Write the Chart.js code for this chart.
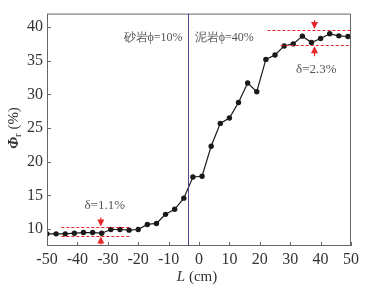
<!DOCTYPE html>
<html>
<head>
<meta charset="utf-8">
<script src="https://cdn.jsdelivr.net/npm/chart.js@4.4.1/dist/chart.umd.min.js"></script>
<style>
    html, body { margin: 0; padding: 0; background: #fff; }
    #wrap { width: 370px; height: 291px; }
</style>
</head>
<body>
<div id="wrap"><canvas id="myChart" width="370" height="291"></canvas></div>
<script>
// Положение по длине образца (см) и пористость Φr (%)
const positions = [-50, -47, -44, -41, -38, -35, -32, -29, -26, -23, -20, -17, -14, -11, -8, -5, -2,
    1, 4, 7, 10, 13, 16, 19, 22, 25, 28, 31, 34, 37, 40, 43, 46, 49];
const phiValues = [9.3, 9.3, 9.3, 9.4, 9.5, 9.5, 9.4, 9.95, 9.95, 9.85, 9.95, 10.7, 10.85, 12.2, 12.95, 14.6, 17.75,
    17.85, 22.3, 25.7, 26.5, 28.8, 31.7, 30.4, 35.2, 35.85, 37.2, 37.5, 38.65, 37.7, 38.3, 39.0, 38.7, 38.6];

const xTicks = [-50, -40, -30, -20, -10, 0, 10, 20, 30, 40, 50];
const yTicks = [10, 15, 20, 25, 30, 35, 40];

// Граница песчаник / глина
const interfaceX = -3.5;
// Пунктирные линии разброса: [x от, x до, значение]
const sandBand = [[-45.3, -22.2, 10.25], [-45.3, -22.2, 9.05]];
const mudBand = [[22.5, 50, 39.55], [26.9, 50, 37.3]];
const arrowX = [-32.3, 38];

const serif = "'Liberation Serif', 'DejaVu Serif', serif";
const red = '#e8262a';

const annotations = {
    id: 'annotations',
    afterDatasetsDraw(chart) {
        const {ctx, chartArea: a, scales: {x, y}} = chart;
        ctx.save();

        // рамка
        ctx.strokeStyle = '#666';
        ctx.lineWidth = 1;
        ctx.strokeRect(a.left + 0.5, a.top + 0.5, a.right - a.left - 1, a.bottom - a.top - 1);

        // внутренние засечки
        ctx.beginPath();
        xTicks.forEach(v => {
            const px = Math.round(x.getPixelForValue(v)) + 0.5;
            ctx.moveTo(px, a.bottom);
            ctx.lineTo(px, a.bottom - 4);
        });
        yTicks.forEach(v => {
            const py = Math.round(y.getPixelForValue(v)) + 0.5;
            ctx.moveTo(a.left, py);
            ctx.lineTo(a.left + 4, py);
        });
        ctx.stroke();

        // граница слоёв
        const ix = Math.round(x.getPixelForValue(interfaceX)) + 0.5;
        ctx.strokeStyle = '#4a4a8c';
        ctx.beginPath();
        ctx.moveTo(ix, a.top);
        ctx.lineTo(ix, a.bottom);
        ctx.stroke();

        // пунктир
        ctx.strokeStyle = red;
        ctx.setLineDash([3, 2]);
        [...sandBand, ...mudBand].forEach(([x0, x1, v]) => {
            const py = Math.round(y.getPixelForValue(v)) + 0.5;
            ctx.beginPath();
            ctx.moveTo(x.getPixelForValue(x0), py);
            ctx.lineTo(x.getPixelForValue(x1), py);
            ctx.stroke();
        });
        ctx.setLineDash([]);

        // стрелки
        const arrow = (px, tipY, dir, len) => {
            ctx.fillStyle = red;
            ctx.strokeStyle = red;
            ctx.lineWidth = 1.2;
            ctx.beginPath();
            ctx.moveTo(px, tipY - dir * len);
            ctx.lineTo(px, tipY - dir * 5);
            ctx.stroke();
            ctx.beginPath();
            ctx.moveTo(px, tipY);
            ctx.lineTo(px - 3.5, tipY - dir * 7);
            ctx.lineTo(px + 3.5, tipY - dir * 7);
            ctx.closePath();
            ctx.fill();
        };
        const sx = x.getPixelForValue(arrowX[0]);
        arrow(sx, y.getPixelForValue(sandBand[0][2]) - 1, 1, 9);
        arrow(sx, y.getPixelForValue(sandBand[1][2]) + 1, -1, 8);
        const mx = x.getPixelForValue(arrowX[1]);
        arrow(mx, y.getPixelForValue(mudBand[0][2]) - 1, 1, 9);
        arrow(mx, y.getPixelForValue(mudBand[1][2]) + 1, -1, 10);

        // подписи
        ctx.fillStyle = '#555';
        ctx.textBaseline = 'middle';
        ctx.font = `12px ${serif}`;
        ctx.textAlign = 'right';
        ctx.fillText('砂岩ϕ=10%', x.getPixelForValue(-5.4), y.getPixelForValue(38.45));
        ctx.textAlign = 'left';
        ctx.fillText('泥岩ϕ=40%', x.getPixelForValue(-1.4), y.getPixelForValue(38.45));

        ctx.font = `13px ${serif}`;
        ctx.textAlign = 'center';
        ctx.fillText('δ=2.3%', x.getPixelForValue(38.6), y.getPixelForValue(33.7));
        ctx.fillText('δ=1.1%', x.getPixelForValue(-31), y.getPixelForValue(13.5));

        // подписи осей
        ctx.fillStyle = '#333';
        ctx.textAlign = 'left';
        ctx.textBaseline = 'alphabetic';
        const xl1 = 'L', xl2 = ' (cm)';
        ctx.font = `italic 15px ${serif}`;
        const w1 = ctx.measureText(xl1).width;
        ctx.font = `15px ${serif}`;
        const w2 = ctx.measureText(xl2).width;
        const cx = (a.left + a.right) / 2 - 2;
        ctx.font = `italic 15px ${serif}`;
        ctx.fillText(xl1, cx - (w1 + w2) / 2, 281);
        ctx.font = `15px ${serif}`;
        ctx.fillText(xl2, cx - (w1 + w2) / 2 + w1, 281);

        ctx.translate(18, 128);
        ctx.rotate(-Math.PI / 2);
        ctx.font = `italic bold 15px ${serif}`;
        const p1 = ctx.measureText('Φ').width;
        ctx.font = `11px ${serif}`;
        const p2 = ctx.measureText('r').width;
        ctx.font = `15px ${serif}`;
        const p3 = ctx.measureText(' (%)').width;
        let tx = -(p1 + p2 + p3) / 2;
        ctx.font = `italic bold 15px ${serif}`;
        ctx.fillText('Φ', tx, 0);
        tx += p1;
        ctx.font = `11px ${serif}`;
        ctx.fillText('r', tx, 3);
        tx += p2;
        ctx.font = `15px ${serif}`;
        ctx.fillText(' (%)', tx, 0);

        ctx.restore();
    }
};

new Chart(document.getElementById('myChart'), {
    type: 'line',
    data: {
        datasets: [{
            data: positions.map((p, i) => ({x: p, y: phiValues[i]})),
            borderColor: '#1a1a1a',
            backgroundColor: '#1a1a1a',
            borderWidth: 1.2,
            pointRadius: 2.7,
            pointBorderWidth: 0,
            tension: 0
        }]
    },
    options: {
        responsive: false,
        animation: false,
        devicePixelRatio: 1,
        layout: {padding: {top: 11, right: 19, left: 0, bottom: 0}},
        plugins: {legend: {display: false}, tooltip: {enabled: false}},
        scales: {
            x: {
                type: 'linear',
                min: -50,
                max: 50,
                grid: {display: false, drawTicks: false},
                border: {display: false},
                afterBuildTicks: scale => { scale.ticks = xTicks.map(v => ({value: v})); },
                afterFit: scale => { scale.height = 45; },
                ticks: {
                    padding: 4,
                    color: '#333',
                    maxRotation: 0,
                    font: {family: serif, size: 16}
                }
            },
            y: {
                type: 'linear',
                min: 7.5,
                max: 42,
                grid: {display: false, drawTicks: false},
                border: {display: false},
                afterBuildTicks: scale => { scale.ticks = yTicks.map(v => ({value: v})); },
                afterFit: scale => { scale.width = 47; },
                ticks: {
                    padding: 4,
                    color: '#333',
                    font: {family: serif, size: 16}
                }
            }
        }
    },
    plugins: [annotations]
});
</script>
</body>
</html>
